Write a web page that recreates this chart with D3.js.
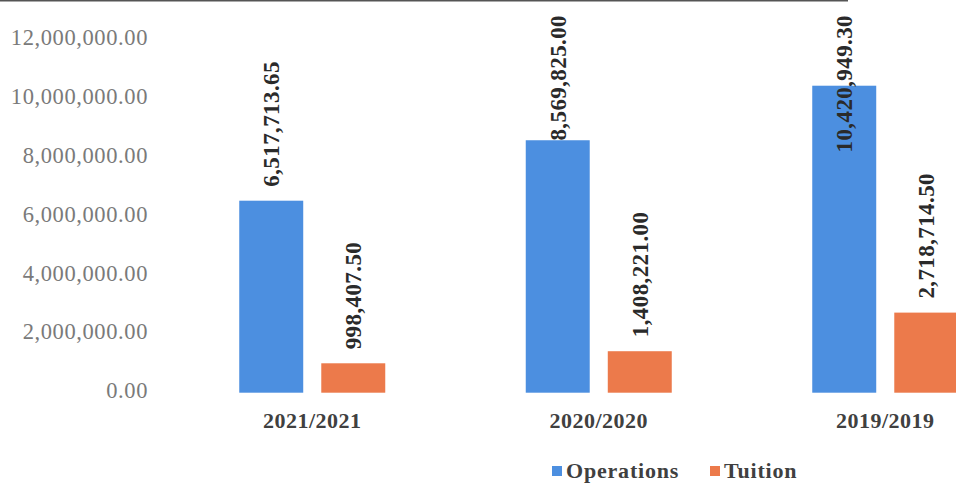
<!DOCTYPE html>
<meta charset="utf-8">
<style>
html, body { margin: 0; padding: 0; background: #fff; }
svg { display: block; font-family: "Liberation Serif", "Times New Roman", serif; }
</style>
<body>
<script src="https://d3js.org/d3.v7.min.js"></script>
<script>

var width = 956,
    height = 483;

var years = ["2021/2021", "2020/2020", "2019/2019"];
var series = ["Operations", "Tuition"];
var operations = [6517713.65, 8569825.00, 10420949.30];
var tuition = [998407.50, 1408221.00, 2718714.50];
var yTicks = [0, 2000000, 4000000, 6000000, 8000000, 10000000, 12000000];
var colors = ["#4c8fe0", "#ec7a4b"];

var rows = years.map(function(y, i) {
  return { year: y, values: [operations[i], tuition[i]] };
});

var svg = d3.select("body").append("svg")
    .attr("width", width)
    .attr("height", height);

// page rule on top
svg.append("line")
    .attr("x1", 0).attr("x2", 848)
    .attr("y1", 0.5).attr("y2", 0.5)
    .attr("stroke", "#555")
    .attr("stroke-width", 2);

var y = d3.scaleLinear()
    .domain([0, 12000000])
    .range([392.7, 39.2]);

var x0 = d3.scaleBand()
    .domain(years)
    .range([169, 1028.5]);

var x1 = d3.scaleBand()
    .domain(series)
    .range([70.25, 216.25])
    .paddingInner(0.22);

var fmt = d3.format(",.2f");

var yAxis = svg.append("g")
    .attr("transform", "translate(148,-2)")
    .call(d3.axisLeft(y).tickValues(yTicks).tickSize(0).tickPadding(0).tickFormat(fmt));
yAxis.select(".domain").remove();
yAxis.selectAll("text")
    .attr("fill", "#7a7a7a")
    .style("font-family", "Liberation Serif")
    .style("font-size", "22.5px")
    .style("letter-spacing", "0.6px");

var groups = svg.append("g").selectAll("g")
    .data(rows)
    .enter().append("g")
    .attr("transform", function(d) { return "translate(" + x0(d.year) + ",0)"; });

groups.selectAll("rect")
    .data(function(d) { return d.values.map(function(v, i) { return { s: series[i], v: v, i: i }; }); })
    .enter().append("rect")
    .attr("x", function(d) { return x1(d.s); })
    .attr("width", x1.bandwidth())
    .attr("y", function(d) { return y(d.v); })
    .attr("height", function(d) { return y(0) - y(d.v); })
    .attr("fill", function(d) { return colors[d.i]; });

groups.selectAll("text.val")
    .data(function(d) { return d.values.map(function(v, i) { return { s: series[i], v: v, i: i }; }); })
    .enter().append("text")
    .attr("class", "val")
    .attr("text-anchor", "start")
    .attr("dy", "0.35em")
    .attr("fill", "#2a2a2a")
    .style("font-size", "23px")
    .style("font-weight", "bold")
    .style("letter-spacing", "0.4px")
    .text(function(d) { return fmt(d.v); })
    .each(function(d) {
      var len = this.getComputedTextLength();
      var cx = x1(d.s) + x1.bandwidth() / 2;
      var yb = Math.max(y(d.v) - 14, 15 + len);
      d3.select(this).attr("transform", "translate(" + cx + "," + yb + ") rotate(-90)");
    });

svg.append("g").selectAll("text")
    .data(years)
    .enter().append("text")
    .attr("x", function(d) { return x0(d) + x0.bandwidth() / 2; })
    .attr("y", 428)
    .attr("text-anchor", "middle")
    .attr("fill", "#404040")
    .style("font-size", "22px")
    .style("font-weight", "bold")
    .style("letter-spacing", "0.5px")
    .text(function(d) { return d; });

// legend
var legendX = [552, 710];
var legend = svg.append("g").selectAll("g")
    .data(series)
    .enter().append("g")
    .attr("transform", function(d, i) { return "translate(" + legendX[i] + ",0)"; });

legend.append("rect")
    .attr("x", 0).attr("y", 466)
    .attr("width", 10).attr("height", 10)
    .attr("fill", function(d, i) { return colors[i]; });

legend.append("text")
    .attr("x", 14)
    .attr("y", 478)
    .attr("fill", "#404040")
    .style("font-size", "22px")
    .style("font-weight", "bold")
    .style("letter-spacing", "0.8px")
    .text(function(d) { return d; });

</script>
</body>
